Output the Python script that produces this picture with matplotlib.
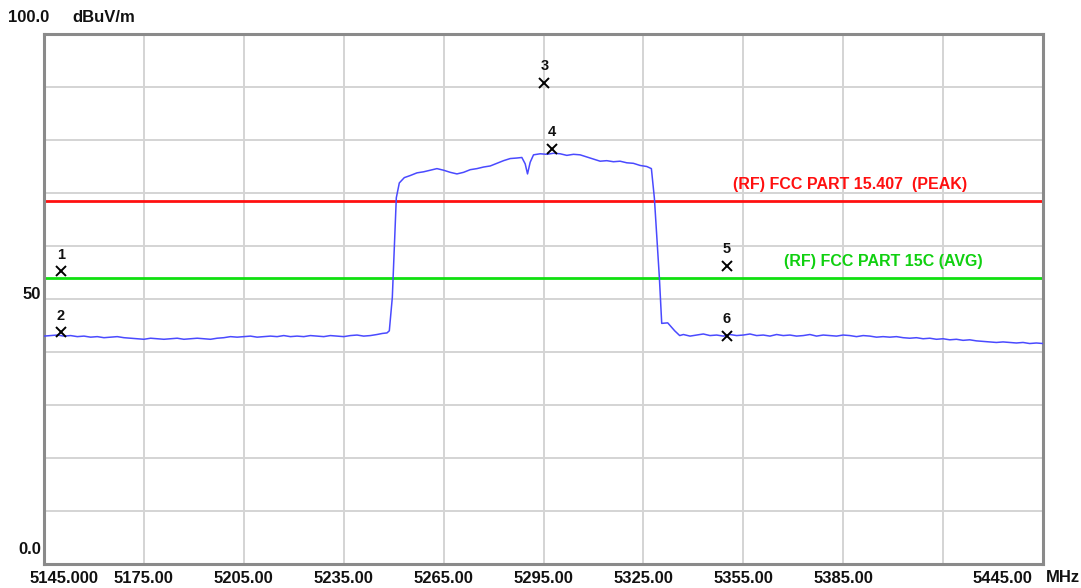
import matplotlib
matplotlib.use("Agg")
import matplotlib.pyplot as plt
import matplotlib.transforms as mtrans

# ---------------- data ----------------
x_ticks = [5145, 5175, 5205, 5235, 5265, 5295, 5325, 5355, 5385, 5415, 5445]
x_tick_labels = ["5145.000", "5175.00", "5205.00", "5235.00", "5265.00", "5295.00",
                 "5325.00", "5355.00", "5385.00", "", "5445.00"]
y_ticks = [0, 10, 20, 30, 40, 50, 60, 70, 80, 90, 100]

floor_left_f = [5145, 5147, 5149, 5151, 5153, 5155, 5157, 5159, 5161, 5163, 5165, 5167, 5169,
                5171, 5173, 5175, 5177, 5179, 5181, 5183, 5185, 5187, 5189, 5191, 5193, 5195,
                5197, 5199, 5201, 5203, 5205, 5207, 5209, 5211, 5213, 5215, 5217, 5219, 5221,
                5223, 5225, 5227, 5229, 5231, 5233, 5235, 5237, 5239, 5241, 5243, 5245]
floor_left_db = [43.0, 43.1, 43.2, 43.0, 43.1, 42.9, 43.0, 42.8, 42.9, 42.7, 42.8, 42.9, 42.7,
                 42.6, 42.5, 42.4, 42.6, 42.5, 42.4, 42.5, 42.6, 42.4, 42.5, 42.6, 42.5, 42.4,
                 42.6, 42.7, 42.9, 42.8, 42.9, 43.0, 42.8, 42.9, 43.0, 42.9, 43.1, 42.9, 43.0,
                 42.9, 43.1, 43.0, 42.9, 43.1, 43.0, 42.9, 43.1, 43.2, 43.0, 43.1, 43.3]

band_f = [5246.6, 5248.0, 5248.7, 5249.6, 5250.2, 5250.8, 5251.7, 5253.2, 5255, 5257, 5259,
          5261, 5263, 5265, 5267, 5269, 5271, 5273, 5275, 5277, 5279, 5281, 5283, 5285, 5287,
          5288.5, 5289.5, 5290.2, 5291, 5292, 5294, 5296, 5298, 5300, 5302, 5304, 5306, 5308,
          5310, 5312, 5314, 5316, 5318, 5320, 5322, 5324, 5326, 5327.4, 5328.3, 5329.2,
          5329.8, 5330.5, 5332.3, 5334.4, 5335.9]
band_db = [43.5, 43.6, 44.0, 50.3, 59.7, 69.1, 71.9, 72.9, 73.3, 73.8, 74.0,
           74.3, 74.6, 74.3, 73.9, 73.6, 73.9, 74.4, 74.6, 74.9, 75.1, 75.6, 76.1, 76.5, 76.6,
           76.7, 75.5, 73.6, 75.8, 77.2, 77.4, 77.3, 77.5, 77.4, 77.1, 77.3, 77.2, 76.8,
           76.4, 76.0, 76.1, 75.9, 76.0, 75.7, 75.6, 75.2, 75.0, 74.6, 69.0, 60.0,
           54.0, 45.4, 45.5, 44.0, 43.1]

floor_right_f = [5337, 5339, 5341, 5343, 5345, 5347, 5349, 5351, 5353, 5355, 5357, 5359, 5361,
                 5363, 5365, 5367, 5369, 5371, 5373, 5375, 5377, 5379, 5381, 5383, 5385, 5387,
                 5389, 5391, 5393, 5395, 5397, 5399, 5401, 5403, 5405, 5407, 5409, 5411, 5413,
                 5415, 5417, 5419, 5421, 5423, 5425, 5427, 5429, 5431, 5433, 5435, 5437, 5439,
                 5441, 5443, 5445]
floor_right_db = [43.3, 43.0, 43.2, 43.4, 43.1, 43.2, 43.0, 43.3, 43.1, 43.2, 43.4, 43.1, 43.2,
                  43.0, 43.3, 43.1, 43.2, 43.0, 43.1, 43.3, 43.0, 43.2, 43.1, 43.0, 43.2, 43.1,
                  42.9, 43.1, 43.0, 42.8, 42.9, 42.8, 42.9, 42.7, 42.6, 42.7, 42.5, 42.6, 42.4,
                  42.5, 42.3, 42.4, 42.2, 42.3, 42.1, 42.0, 41.9, 41.8, 41.9, 41.8, 41.7, 41.8,
                  41.6, 41.7, 41.6]

marker_f = [5150.0, 5150.0, 5295.3, 5297.6, 5350.0, 5350.0]
marker_db = [55.2, 43.7, 90.8, 78.3, 56.3, 43.1]
marker_labels = ["1", "2", "3", "4", "5", "6"]

peak_limit = 68.5
peak_label = "(RF) FCC PART 15.407  (PEAK)"
avg_limit = 54.0
avg_label = "(RF) FCC PART 15C (AVG)"

# ---------------- figure ----------------
W, H = 1081, 588
fig = plt.figure(figsize=(W / 100, H / 100), dpi=100)
L, R, T, B = 44, 1043, 34, 564
ax = fig.add_axes([L / W, (H - B) / H, (R - L) / W, (B - T) / H])
ax.set_xlim(5145, 5445)
ax.set_ylim(0, 100)

FONT = "Liberation Sans"
TXT = "#111111"
FS = 12


def shift(dx, dy):
    return ax.transData + mtrans.ScaledTranslation(dx / 100, dy / 100, fig.dpi_scale_trans)


ax.set_xticks(x_ticks)
ax.set_yticks(y_ticks)
ax.tick_params(length=0, labelbottom=False, labelleft=False)
ax.grid(True, color="#d4d4d4", linewidth=1.4)
ax.set_axisbelow(True)
for s in ax.spines.values():
    s.set_color("#8a8a8a")
    s.set_linewidth(2.2)

# trace
trace_f = floor_left_f + band_f + floor_right_f
trace_db = floor_left_db + band_db + floor_right_db
ax.plot(trace_f, trace_db, color="#4a4aff", linewidth=1.1, zorder=3)

# limit lines
ax.axhline(peak_limit, color="#ff1010", linewidth=2.0, zorder=2)
ax.axhline(avg_limit, color="#10e010", linewidth=2.0, zorder=2)
ax.text(5387, peak_limit + 1.6, peak_label, color="#ff1010", fontsize=11.5, fontweight="bold",
        family=FONT, ha="center", va="bottom")
ax.text(5397, avg_limit + 1.6, avg_label, color="#10d010", fontsize=11.5, fontweight="bold",
        family=FONT, ha="center", va="bottom")

# markers
ax.plot(marker_f, marker_db, linestyle="none", marker="x", markersize=7.5,
        markeredgewidth=1.4, color="black", zorder=4)
for f, d, lab in zip(marker_f, marker_db, marker_labels):
    ax.text(f, d + 1.8, lab, fontsize=10.5, fontweight="bold", family=FONT,
            ha="center", va="bottom", color=TXT)

# x tick labels
for xt, lab in zip(x_ticks, x_tick_labels):
    if not lab:
        continue
    if xt == x_ticks[0]:
        ha, dx = "left", -14
    elif xt == x_ticks[-1]:
        ha, dx = "right", -11
    else:
        ha, dx = "center", 0
    ax.text(xt, 0, lab, ha=ha, va="top", fontsize=FS, fontweight="bold", family=FONT,
            color=TXT, transform=shift(dx, -7))

fig.text(1046 / W, 1 - 577.5 / H, "MHz", ha="left", va="center", fontsize=FS,
         fontweight="bold", family=FONT, color=TXT)

# y labels
fig.text(8 / W, 1 - 18 / H, "100.0", ha="left", va="center", fontsize=FS,
         fontweight="bold", family=FONT, color=TXT)
fig.text(72 / W, 1 - 18 / H, "dBuV/m", ha="left", va="center", fontsize=FS,
         fontweight="bold", family=FONT, color=TXT)
ax.text(5145, 50, "50", ha="right", va="center", fontsize=FS, fontweight="bold", family=FONT,
        color=TXT, transform=shift(-3, 4.5))
ax.text(5145, 0, "0.0", ha="right", va="center", fontsize=FS, fontweight="bold", family=FONT,
        color=TXT, transform=shift(-3, 15))

fig.savefig("out.png", dpi=100)
